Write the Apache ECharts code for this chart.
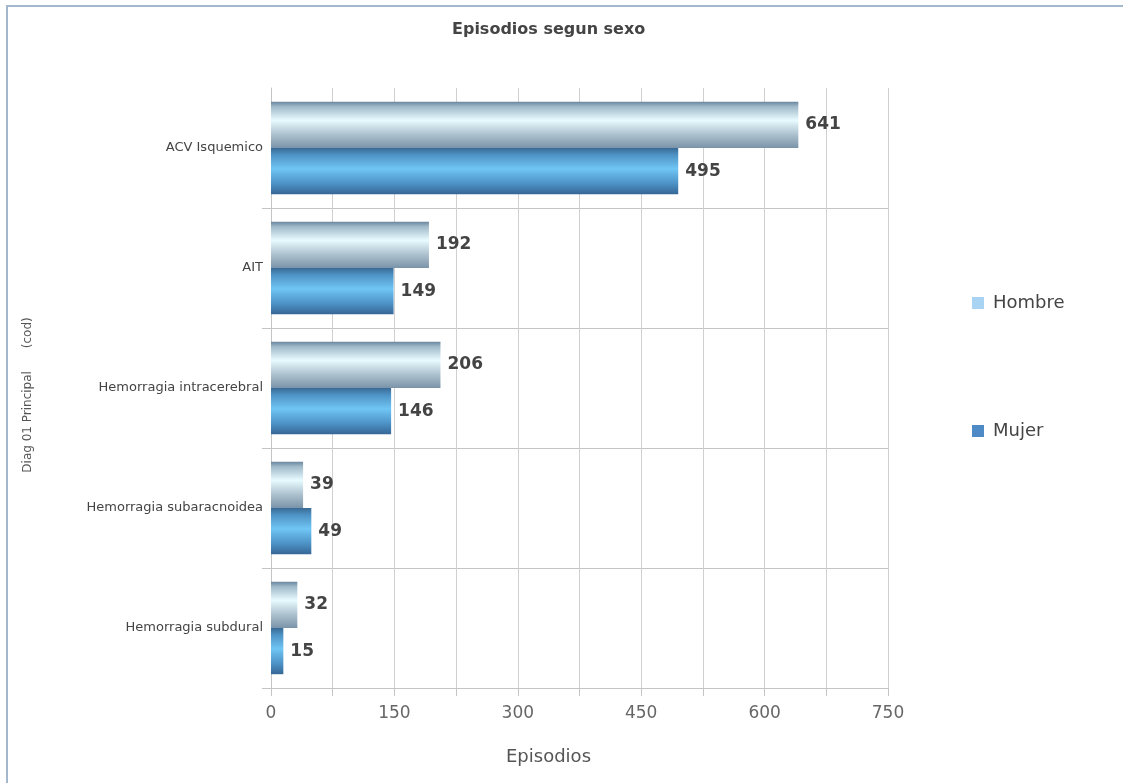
<!DOCTYPE html>
<html>
<head>
<meta charset="utf-8">
<title>Episodios segun sexo</title>
<script src="https://cdn.jsdelivr.net/npm/echarts@6/dist/echarts.min.js"></script>
<style>
  html, body { margin: 0; padding: 0; background: #ffffff; }
  #chart { width: 1123px; height: 783px; }
</style>
</head>
<body>
<div id="chart"></div>
<script>
// Diagnoses (top to bottom) and episode counts per sex
const categories = [
  'ACV Isquemico',
  'AIT',
  'Hemorragia intracerebral',
  'Hemorragia subaracnoidea',
  'Hemorragia subdural'
];
const hombre = [641, 192, 206, 39, 32];
const mujer = [495, 149, 146, 49, 15];
const xTicks = { min: 0, max: 750, interval: 150 };

const font = '"DejaVu Sans", Verdana, sans-serif';

function vGrad(stops) {
  return new echarts.graphic.LinearGradient(0, 0, 0, 1,
    stops.map(([offset, color]) => ({ offset, color })));
}

const hombreFill = vGrad([
  [0, '#6a879e'], [0.1, '#9fb8c8'], [0.4, '#e8fbff'],
  [0.68, '#b2c6d3'], [1, '#7a93a8']
]);
const mujerFill = vGrad([
  [0, '#386a95'], [0.15, '#4e92c5'], [0.45, '#6fc6f4'],
  [0.75, '#4f95c9'], [1, '#356797']
]);

const valueLabel = {
  show: true,
  position: 'right',
  distance: 7,
  fontFamily: font,
  fontSize: 17,
  fontWeight: 'bold',
  color: '#444'
};

const chart = echarts.init(document.getElementById('chart'), null, { renderer: 'canvas' });

chart.setOption({
  backgroundColor: '#ffffff',
  animation: false,
  title: {
    text: 'Episodios segun sexo',
    left: 447,
    top: 17,
    textStyle: { fontFamily: font, fontSize: 16, fontWeight: 'bold', color: '#444' }
  },
  legend: {
    orient: 'vertical',
    left: 967,
    top: 288,
    itemWidth: 12,
    itemHeight: 12,
    itemGap: 108,
    icon: 'rect',
    textStyle: { fontFamily: font, fontSize: 18, lineHeight: 20, color: '#444', padding: [0, 0, 0, 4] },
    data: [
      { name: 'Hombre', itemStyle: { color: '#a9d3f3' } },
      { name: 'Mujer', itemStyle: { color: '#4e8bc6' } }
    ]
  },
  grid: { left: 271, right: 235, top: 88, bottom: 95, containLabel: false },
  xAxis: {
    type: 'value',
    min: xTicks.min,
    max: xTicks.max,
    interval: xTicks.interval,
    name: 'Episodios',
    nameLocation: 'middle',
    nameGap: 60,
    nameTextStyle: { fontFamily: font, fontSize: 18, color: '#555', padding: [0, 62, 0, 0] },
    axisLine: { show: true, lineStyle: { color: '#c4c4c4', width: 1 } },
    axisTick: { show: true, length: 8, lineStyle: { color: '#c4c4c4' } },
    minorTick: { show: true, splitNumber: 2, length: 8, lineStyle: { color: '#c4c4c4' } },
    splitLine: { show: true, lineStyle: { color: '#d0d0d0', width: 1 } },
    minorSplitLine: { show: true, lineStyle: { color: '#d0d0d0', width: 1 } },
    axisLabel: { fontFamily: font, fontSize: 17, color: '#666', margin: 17 }
  },
  yAxis: {
    type: 'category',
    data: categories,
    inverse: true,
    name: 'Diag 01 Principal      (cod)',
    nameLocation: 'middle',
    nameGap: 237,
    nameRotate: 90,
    nameTextStyle: { fontFamily: font, fontSize: 12, color: '#555', padding: [0, 14, 0, 0] },
    axisLine: { show: true, lineStyle: { color: '#c4c4c4' } },
    axisTick: { show: true, length: 9, interval: (i) => i !== 0, lineStyle: { color: '#c4c4c4' } },
    splitLine: { show: true, interval: (i) => i !== 0, lineStyle: { color: '#c4c4c4', width: 1 } },
    axisLabel: { fontFamily: font, fontSize: 13, color: '#444', margin: 8 }
  },
  series: [
    {
      name: 'Hombre',
      type: 'bar',
      data: hombre,
      barGap: '0%',
      barCategoryGap: '23%',
      itemStyle: { color: hombreFill },
      label: valueLabel
    },
    {
      name: 'Mujer',
      type: 'bar',
      data: mujer,
      barGap: '0%',
      barCategoryGap: '23%',
      itemStyle: { color: mujerFill },
      label: valueLabel
    }
  ],
  graphic: [
    {
      type: 'polyline',
      silent: true,
      shape: { points: [[7, 783], [7, 6], [1123, 6]] },
      style: { stroke: '#a4b8cd', lineWidth: 2, fill: null }
    }
  ]
});
</script>
</body>
</html>
